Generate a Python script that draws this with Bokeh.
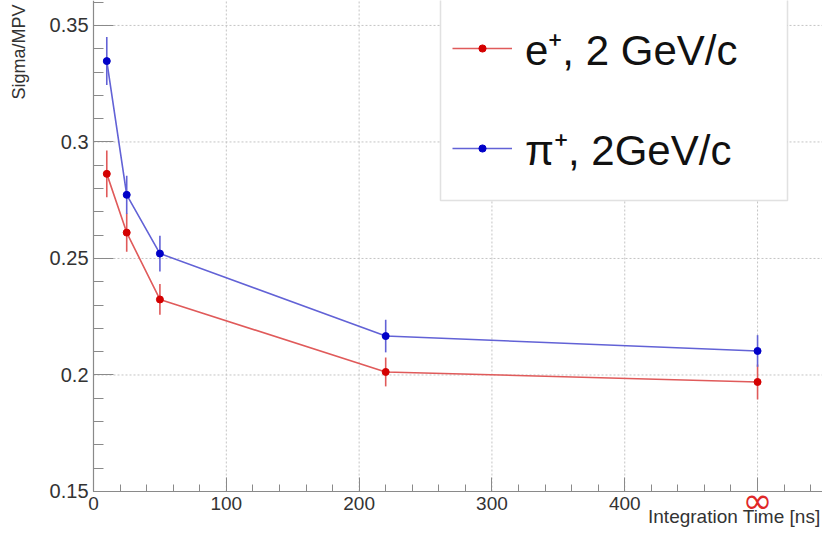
import math
from bokeh.plotting import figure
from bokeh.models import (Range1d, FixedTicker, Label, Legend, LegendItem,
                          BoxAnnotation, ColumnDataSource)
from bokeh.embed import file_html
from bokeh.resources import INLINE

# ---- data ----
time_ns = [10, 25, 50, 220, 500]          # 500 stands for "infinity"
e_sigma = [0.2863, 0.2611, 0.2324, 0.2013, 0.1970]
e_err = [0.0100, 0.0082, 0.0066, 0.0062, 0.0075]
pi_sigma = [0.3347, 0.2773, 0.2521, 0.2167, 0.2103]
pi_err = [0.0103, 0.0082, 0.0077, 0.0070, 0.0068]

x_ticks = [0, 100, 200, 300, 400, 500]
x_tick_labels = ["0", "100", "200", "300", "400", ""]
x_minor = list(range(0, 560, 20))
y_ticks = [0.15, 0.2, 0.25, 0.3, 0.35]
y_tick_labels = ["0.15", "0.2", "0.25", "0.3", "0.35"]
y_minor = [round(0.15 + 0.01 * i, 2) for i in range(22)]

label_e = "e\u207a, 2 GeV/c"
label_pi = "\u03c0\u207a, 2GeV/c"
x_title = "Integration Time [ns]"
y_title = "Sigma/MPV"
inf_label = "\u221e"

FONT = "Liberation Sans"
X_MIN, X_MAX = 0, 548.9
Y_MIN, Y_MAX = 0.15, 0.3607

W, H = 822, 528
p = figure(width=W, height=H, output_backend="svg", toolbar_location=None,
           x_range=Range1d(-70.03, X_MAX), y_range=Range1d(0.13412, Y_MAX),
           min_border=0)
p.outline_line_color = None
p.background_fill_color = "white"
p.border_fill_color = "white"
p.xgrid.visible = False
p.ygrid.visible = False

# ---- axes drawn inside the frame at fixed positions ----
p.xaxis.fixed_location = Y_MIN
p.yaxis.fixed_location = X_MIN
p.xaxis.bounds = (X_MIN, X_MAX)
p.yaxis.bounds = (Y_MIN, Y_MAX)

for ax in (p.xaxis[0], p.yaxis[0]):
    ax.axis_line_color = "#8a8a8a"
    ax.axis_line_width = 1.2
    ax.major_tick_line_color = "#8a8a8a"
    ax.minor_tick_line_color = "#8a8a8a"
    ax.major_tick_out = 0
    ax.minor_tick_out = 0
    ax.major_label_text_font = FONT
    ax.major_label_text_color = "#333333"

p.xaxis.ticker = FixedTicker(ticks=x_ticks, minor_ticks=x_minor)
p.xaxis.major_label_overrides = {t: l for t, l in zip(x_ticks, x_tick_labels)}
p.xaxis.major_tick_in = 14
p.xaxis.minor_tick_in = 7
p.xaxis.major_label_text_font_size = "19px"
p.xaxis.major_label_standoff = 6

p.yaxis.ticker = FixedTicker(ticks=y_ticks, minor_ticks=y_minor)
p.yaxis.major_label_overrides = {t: l for t, l in zip(y_ticks, y_tick_labels)}
p.yaxis.major_tick_in = 20
p.yaxis.minor_tick_in = 10
p.yaxis.major_label_text_font_size = "20px"
p.yaxis.major_label_standoff = 5

# ---- grid lines (at the major ticks, inside the data box) ----
gx = [t for t in x_ticks if t > X_MIN]
gy = [t for t in y_ticks if t > Y_MIN]
p.segment(x0=gx, y0=[Y_MIN] * len(gx), x1=gx, y1=[Y_MAX] * len(gx),
          line_color="#c4c4c4", line_dash="2 2", line_width=1, level="underlay")
p.segment(x0=[X_MIN] * len(gy), y0=gy, x1=[X_MAX] * len(gy), y1=gy,
          line_color="#c4c4c4", line_dash="2 2", line_width=1, level="underlay")

# ---- series ----
def series(y, err, line_col, mark_col):
    src = ColumnDataSource(dict(
        x=time_ns, y=y,
        lo=[v - e for v, e in zip(y, err)],
        hi=[v + e for v, e in zip(y, err)]))
    p.segment(x0="x", y0="lo", x1="x", y1="hi", source=src,
              line_color=line_col, line_width=1.6)
    ln = p.line("x", "y", source=src, line_color=line_col, line_width=1.6)
    mk = p.scatter("x", "y", source=src, size=7, fill_color=mark_col,
                   line_color=mark_col)
    return ln, mk

e_line, e_mark = series(e_sigma, e_err, "#e05a5a", "#d40000")
pi_line, pi_mark = series(pi_sigma, pi_err, "#6262d6", "#0000c8")

# ---- legend box + legend ----
box = BoxAnnotation(left=440, right=787, bottom=328, top=545,
                    left_units="screen", right_units="screen",
                    bottom_units="screen", top_units="screen",
                    fill_color="white", fill_alpha=1.0,
                    line_color="#9a9a9a", line_width=1.5)
p.add_layout(box)

legend = Legend(items=[LegendItem(label=label_e, renderers=[e_line, e_mark]),
                       LegendItem(label=label_pi, renderers=[pi_line, pi_mark])],
                location=(452, 350), padding=0, margin=0, spacing=40,
                glyph_width=60, glyph_height=18, label_height=60,
                label_standoff=13, label_text_font=FONT,
                label_text_font_size="42px", label_text_color="#111111",
                border_line_color=None, background_fill_alpha=0.0)
p.add_layout(legend)

# ---- axis titles and the infinity mark ----
p.add_layout(Label(x=820, y=12, x_units="screen", y_units="screen",
                   text=x_title, text_font=FONT, text_font_size="19px",
                   text_color="#333333", text_align="right",
                   text_baseline="alphabetic"))
p.add_layout(Label(x=18, y=524, x_units="screen", y_units="screen",
                   text=y_title, angle=math.pi / 2, text_font=FONT,
                   text_font_size="18px", text_color="#333333",
                   text_align="right", text_baseline="middle"))
p.add_layout(Label(x=time_ns[-1], y=28, x_units="data", y_units="screen",
                   text=inf_label, text_font="DejaVu Sans",
                   text_font_size="36px",
                   text_color="#e02828", text_align="center",
                   text_baseline="middle"))

open("out.html", "w").write(file_html(p, INLINE))
